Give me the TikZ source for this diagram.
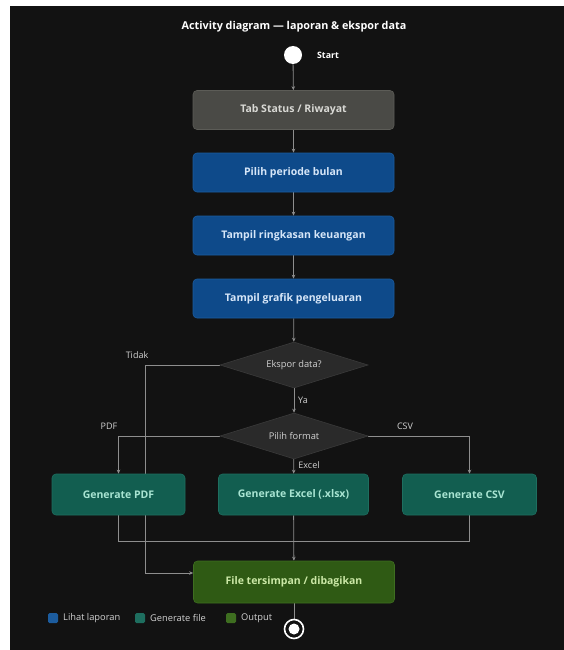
\documentclass[tikz,border=0pt]{standalone}
\usepackage{fontspec}
\setmainfont{Open Sans}
\usetikzlibrary{shapes.geometric,arrows.meta}
\pgfdeclarelayer{bg}
\pgfdeclarelayer{edges}
\pgfsetlayers{bg,edges,main}
\definecolor{panel}{HTML}{121212}
\definecolor{edgec}{HTML}{8E8E8E}
\definecolor{grayfill}{HTML}{4A4A46}
\definecolor{grayline}{HTML}{5C5C57}
\definecolor{grayt}{HTML}{D8D8D4}
\definecolor{bluefill}{HTML}{0E4A8A}
\definecolor{blueline}{HTML}{1C5C9E}
\definecolor{bluet}{HTML}{D6E6F8}
\definecolor{tealfill}{HTML}{125E50}
\definecolor{tealline}{HTML}{1E6E5F}
\definecolor{tealt}{HTML}{A8E4D2}
\definecolor{greenfill}{HTML}{2F5A14}
\definecolor{greenline}{HTML}{3E6E20}
\definecolor{greent}{HTML}{CBE8A6}
\definecolor{diafill}{HTML}{2A2A2A}
\definecolor{dialine}{HTML}{3A3A3A}
\definecolor{labt}{HTML}{D2D2D2}
\tikzset{
  x=1pt,y=-1pt,
  box/.style={rectangle,rounded corners=4pt,minimum height=39pt,font=\fontsize{10.5}{12}\selectfont\bfseries,line width=0.6pt,inner sep=2pt},
  graybox/.style={box,fill=grayfill,draw=grayline,text=grayt,minimum width=201pt},
  bluebox/.style={box,fill=bluefill,draw=blueline,text=bluet,minimum width=201pt},
  tealbox/.style={box,fill=tealfill,draw=tealline,text=tealt},
  greenbox/.style={box,fill=greenfill,draw=greenline,text=greent,minimum width=201pt,minimum height=42pt},
  decision/.style={diamond,aspect=3.2,fill=diafill,draw=dialine,line width=0.6pt,text=labt,font=\fontsize{9.3}{10}\selectfont,minimum width=148pt,minimum height=46pt,inner sep=0pt},
  flow/.style={draw=edgec,line width=0.8pt,-{Stealth[length=4pt,width=3.5pt]}},
  plain/.style={draw=edgec,line width=0.8pt},
  lab/.style={text=labt,font=\fontsize{9}{10}\selectfont,inner sep=1pt},
  legsq/.style={rectangle,rounded corners=1.5pt,minimum width=10pt,minimum height=10pt,inner sep=0pt},
  legt/.style={text=labt,font=\fontsize{9.3}{10}\selectfont,anchor=west,inner sep=0pt}
}
\begin{document}
\begin{tikzpicture}
\begin{pgfonlayer}{bg}
\fill[white] (0,0) rectangle (564,650);
\fill[panel] (10,6) rectangle (564,650);
\end{pgfonlayer}
\useasboundingbox (0,0) rectangle (564,650);

\node[text=white,font=\fontsize{10.8}{12}\selectfont\bfseries] (title) at (294,27) {Activity diagram — laporan \& ekspor data};
\node[circle,fill=white,minimum size=18pt,inner sep=0pt] (start) at (293,55) {};
\node[lab,text=white,font=\fontsize{8.8}{10}\selectfont\bfseries] (startl) at (328,55) {Start};

\node[graybox] (tab) at (293.5,110) {Tab Status / Riwayat};
\node[bluebox] (pilih) at (293.5,172.5) {Pilih periode bulan};
\node[bluebox] (ring) at (293.5,235.5) {Tampil ringkasan keuangan};
\node[bluebox] (graf) at (293.5,298.5) {Tampil grafik pengeluaran};
\node[decision] (eks) at (294,365) {Ekspor data?};
\node[decision] (fmt) at (294,436) {Pilih format};
\node[tealbox,minimum width=133pt,minimum height=41pt] (pdf) at (118.5,494.5) {Generate PDF};
\node[tealbox,minimum width=150pt,minimum height=41pt] (xls) at (293.5,494.5) {Generate Excel (.xlsx)};
\node[tealbox,minimum width=134pt,minimum height=41pt] (csv) at (469.5,494.5) {Generate CSV};
\node[greenbox] (file) at (294,582) {File tersimpan / dibagikan};
\node[circle,draw=white,line width=1.6pt,fill=panel,minimum size=19pt,inner sep=0pt] (end) at (294,629) {};
\node[circle,fill=white,minimum size=11pt,inner sep=0pt] (endin) at (294,629) {};

\coordinate (tid1) at (145,365);
\coordinate (tid2) at (145,573);
\coordinate (merge) at (294,541);

\node[lab] (ltid) at (137,355) {Tidak};
\node[lab] (lya) at (303,400) {Ya};
\node[lab] (lpdf) at (109,426) {PDF};
\node[lab] (lcsv) at (405,426) {CSV};
\node[lab] (lxls) at (309,465) {Excel};

\begin{pgfonlayer}{edges}
\draw[flow] (start) -- (tab);
\draw[flow] (tab) -- (pilih);
\draw[flow] (pilih) -- (ring);
\draw[flow] (ring) -- (graf);
\draw[flow] (graf) -- (eks);
\draw[flow] (eks.west) -- (tid1) -- (tid2) -- (file.west |- tid2);
\draw[flow] (eks) -- (fmt);
\draw[flow] (fmt.west) -| (pdf.north);
\draw[flow] (fmt.east) -| (csv.north);
\draw[flow] (fmt) -- (xls);
\draw[plain] (pdf.south) |- (merge);
\draw[plain] (csv.south) |- (merge);
\draw[flow] (xls) -- (file);
\draw[plain] (file) -- (end);
\end{pgfonlayer}

\node[legsq,fill=blueline] (lg1) at (53,618) {};
\node[legt] (lg1t) at (63,618) {Lihat laporan};
\node[legsq,fill=tealline] (lg2) at (140,618) {};
\node[legt] (lg2t) at (150,618) {Generate file};
\node[legsq,fill=greenline] (lg3) at (231,618) {};
\node[legt] (lg3t) at (241,618) {Output};
\end{tikzpicture}
\end{document}
